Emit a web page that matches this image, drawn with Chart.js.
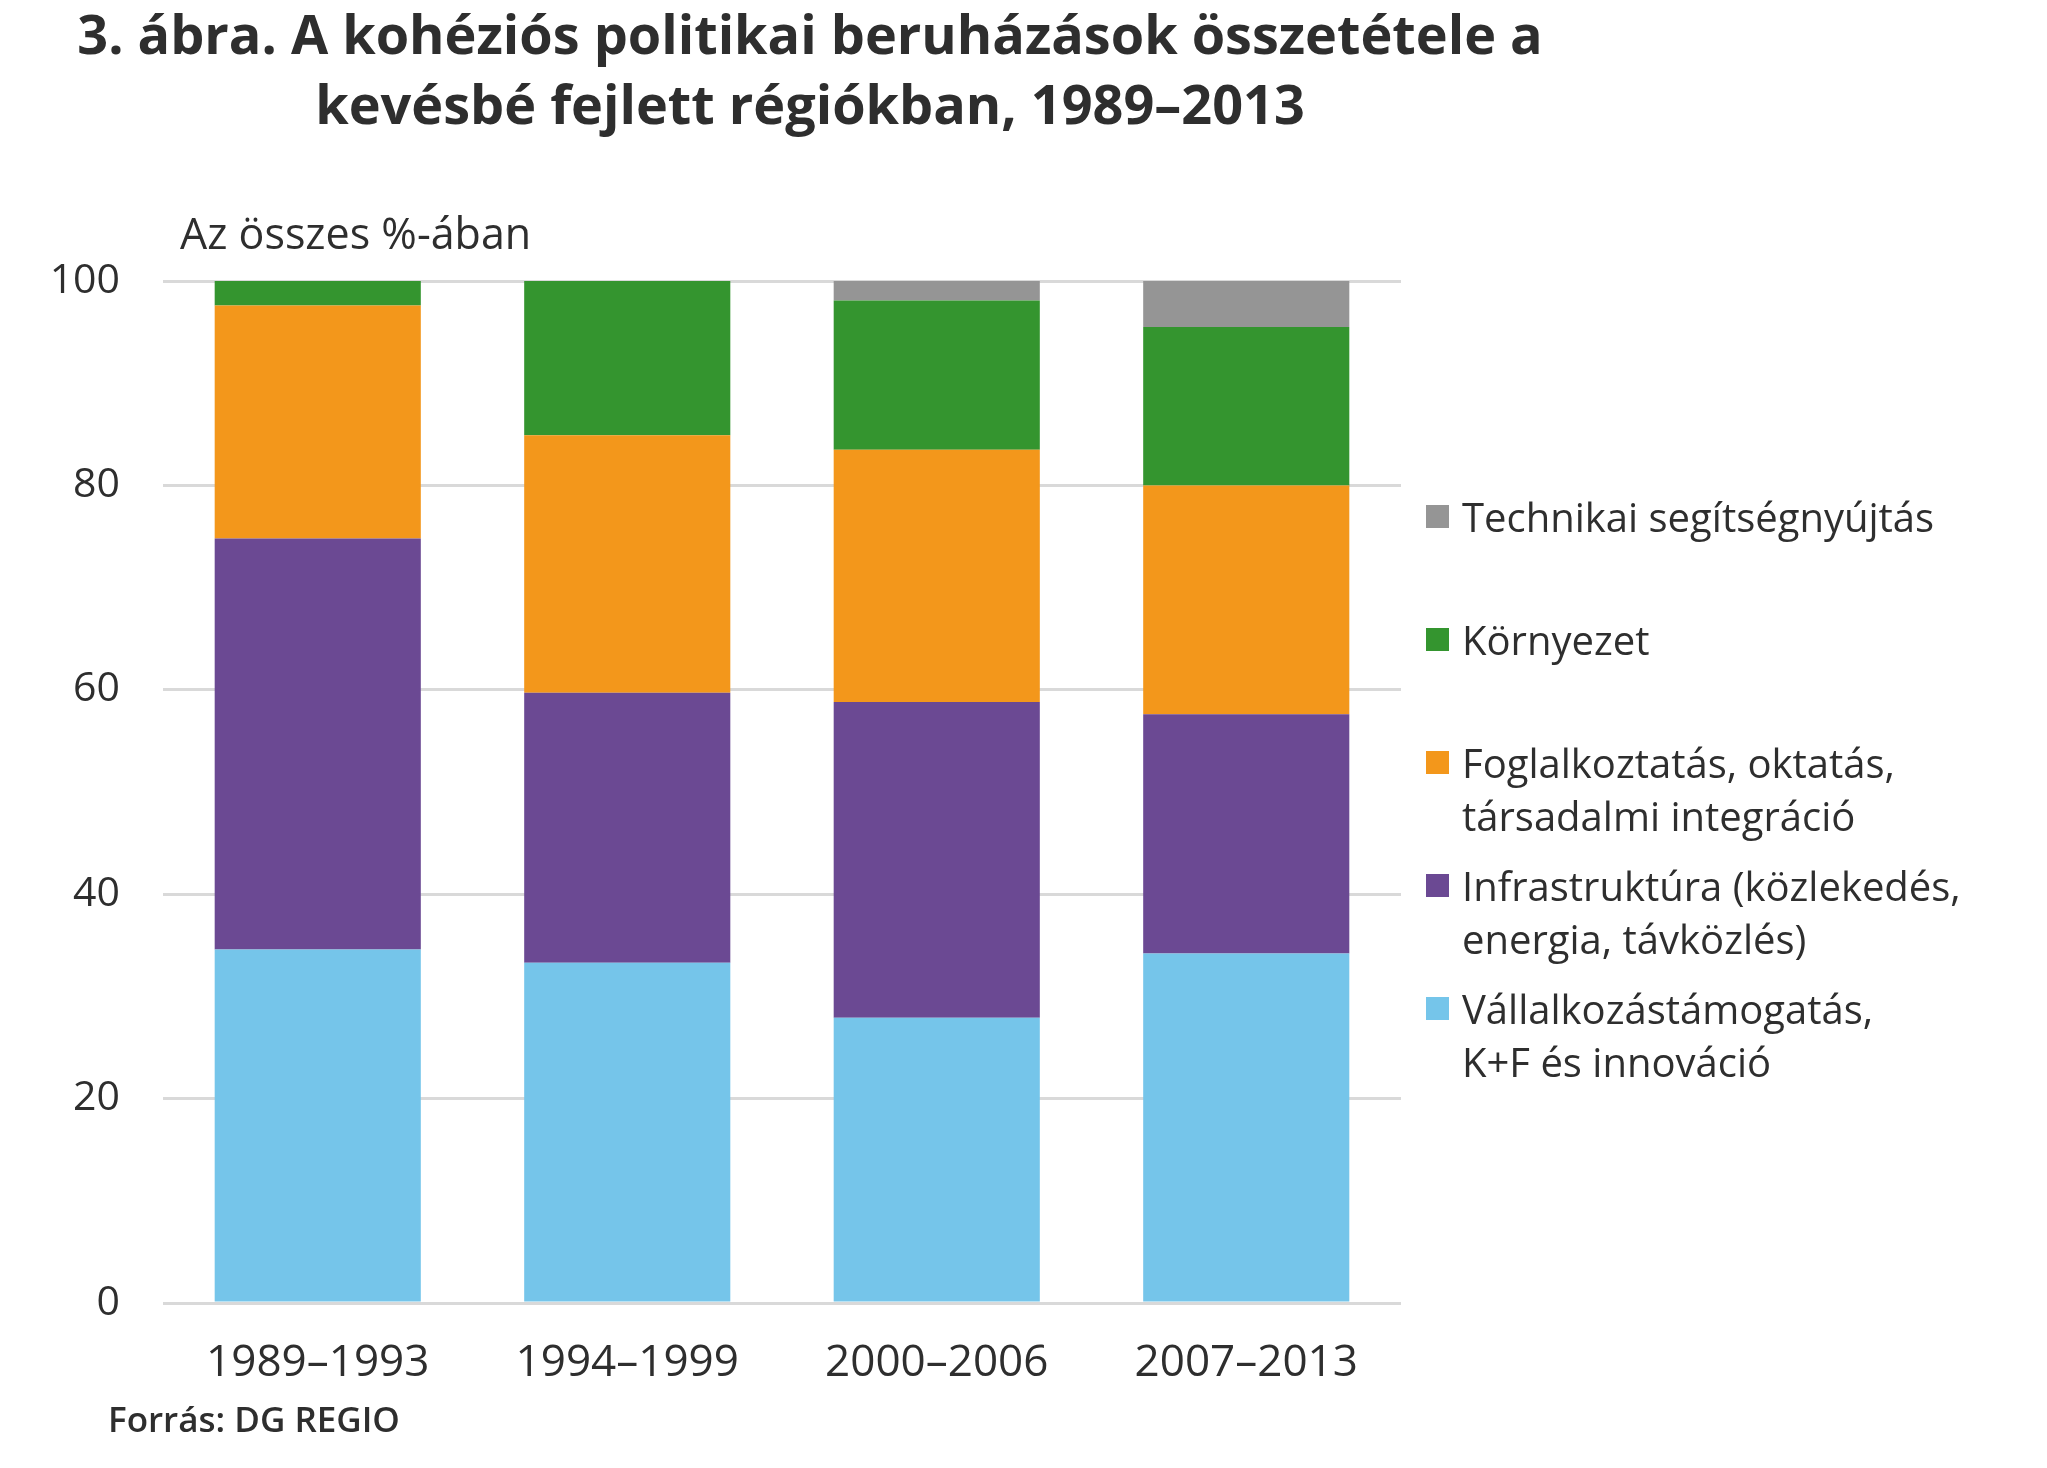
<!DOCTYPE html>
<html>
<head>
<meta charset="utf-8">
<script src="https://cdn.jsdelivr.net/npm/chart.js@4"></script>
<style>
  html, body { margin: 0; padding: 0; background: #fff; }
  #wrap { position: relative; width: 2047px; height: 1468px; font-family: "Open Sans", sans-serif; color: #2e2e2e; }
  #chart { position: absolute; left: 0; top: 0; }
  .title { position: absolute; left: 0; width: 1620px; text-align: center; font-weight: bold; font-size: 54px; white-space: nowrap; }
  .unit { position: absolute; left: 180px; top: 203px; font-size: 43px; }
  .source { position: absolute; left: 108px; top: 1395px; font-size: 35px; font-weight: 600; }
  #legend { position: absolute; left: 1426px; top: 490px; }
  .item { height: 123px; display: flex; align-items: flex-start; }
  .box { width: 23px; height: 23px; margin-top: 15px; margin-right: 13px; flex: none; }
  .lab { font-size: 40px; line-height: 53px; white-space: nowrap; }
</style>
</head>
<body>
<div id="wrap">
  <canvas id="chart" width="2047" height="1468"></canvas>
  <div class="title" style="top: -4px;">3. ábra. A kohéziós politikai beruházások összetétele a</div>
  <div class="title" style="top: 66px;">kevésbé fejlett régiókban, 1989–2013</div>
  <div class="unit">Az összes %-ában</div>
  <div class="source">Forrás: DG REGIO</div>
  <div id="legend"></div>
</div>
<script>
var periods = ['1989–1993', '1994–1999', '2000–2006', '2007–2013'];

var business = [34.6, 33.3, 27.9, 34.2];
var infrastructure = [40.2, 26.4, 30.9, 23.4];
var employment = [22.8, 25.2, 24.7, 22.4];
var environment = [2.4, 15.1, 14.6, 15.5];
var technical = [0, 0, 1.9, 4.5];

var yTicks = [0, 20, 40, 60, 80, 100];

var seriesNames = [
    'Vállalkozástámogatás,\nK+F és innováció',
    'Infrastruktúra (közlekedés,\nenergia, távközlés)',
    'Foglalkoztatás, oktatás,\ntársadalmi integráció',
    'Környezet',
    'Technikai segítségnyújtás'
];

var blue = '#75c5ea';
var purple = '#6b4993';
var orange = '#f3971b';
var green = '#34952f';
var gray = '#959595';

var colors = [blue, purple, orange, green, gray];
var values = [business, infrastructure, employment, environment, technical];

var datasets = values.map(function (v, i) {
    return {
        label: seriesNames[i],
        data: v,
        backgroundColor: colors[i],
        borderWidth: 0,
        barPercentage: 0.666,
        categoryPercentage: 1
    };
});

var ctx = document.getElementById('chart').getContext('2d');
var myChart = new Chart(ctx, {
    type: 'bar',
    data: { labels: periods, datasets: datasets },
    options: {
        responsive: false,
        animation: false,
        layout: { padding: { top: 281, right: 646, left: 0, bottom: 0 } },
        plugins: {
            legend: { display: false },
            tooltip: { enabled: false }
        },
        scales: {
            x: {
                stacked: true,
                grid: { display: false },
                border: { display: false },
                ticks: {
                    color: '#2e2e2e',
                    font: { family: 'Open Sans', size: 44 },
                    padding: 26,
                    maxRotation: 0
                },
                afterFit: function (s) { s.height = 165; }
            },
            y: {
                stacked: true,
                min: 0,
                max: 100,
                afterBuildTicks: function (s) {
                    s.ticks = yTicks.map(function (t) { return { value: t }; });
                },
                grid: { color: '#d9d9d9', lineWidth: 3, drawTicks: false },
                border: { display: false },
                ticks: {
                    color: '#2e2e2e',
                    font: { family: 'Open Sans', size: 41 },
                    padding: 43
                },
                afterFit: function (s) { s.width = 163; }
            }
        }
    }
});

// HTML legend, top series first
var legend = document.getElementById('legend');
for (var i = seriesNames.length - 1; i >= 0; i--) {
    var item = document.createElement('div');
    item.className = 'item';
    var box = document.createElement('div');
    box.className = 'box';
    box.style.background = colors[i];
    var lab = document.createElement('div');
    lab.className = 'lab';
    lab.innerHTML = seriesNames[i].replace('\n', '<br>');
    item.appendChild(box);
    item.appendChild(lab);
    legend.appendChild(item);
}
</script>
</body>
</html>
